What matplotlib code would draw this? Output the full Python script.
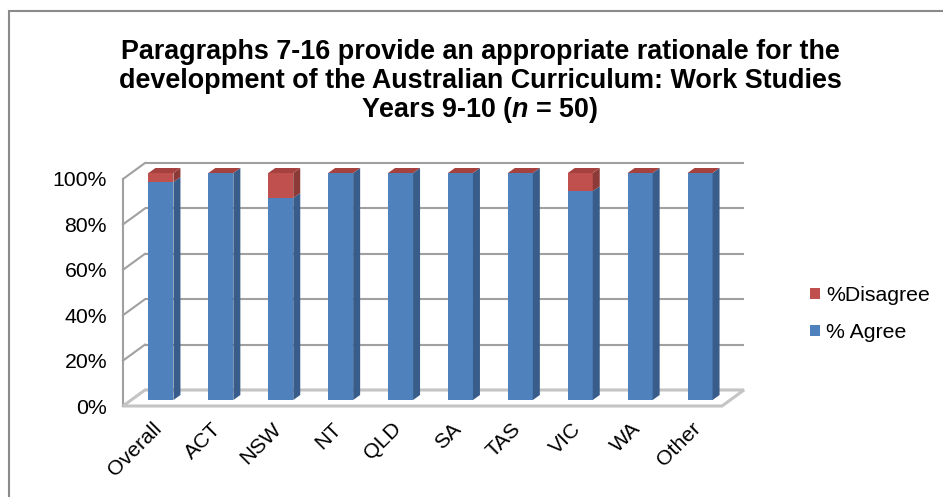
import matplotlib
matplotlib.use("Agg")
import matplotlib.pyplot as plt
from matplotlib.patches import Polygon, Rectangle, Patch
from matplotlib.transforms import ScaledTranslation

plt.rcParams["font.family"] = ["Liberation Sans", "DejaVu Sans"]
plt.rcParams["mathtext.fontset"] = "custom"
plt.rcParams["mathtext.it"] = "Liberation Sans:italic:bold"

# data
categories = ["Overall", "ACT", "NSW", "NT", "QLD", "SA", "TAS", "VIC", "WA", "Other"]
agree = [96, 100, 89, 100, 100, 100, 100, 92, 100, 100]
disagree = [4, 0, 11, 0, 0, 0, 0, 8, 0, 0]
yticks = [0, 20, 40, 60, 80, 100]
ytick_labels = ["0%", "20%", "40%", "60%", "80%", "100%"]

title_lines = [
    "Paragraphs 7-16 provide an appropriate rationale for the",
    "development of the Australian Curriculum: Work Studies",
    "Years 9-10 ($n$ = 50)",
]

BLUE, BLUE_SIDE = "#4f81bd", "#385d8a"
RED, RED_SIDE, RED_TOP = "#c0504d", "#8c3a38", "#a5423f"
GRID = "#a0a0a0"
FLOOR = "#c4c4c4"
FS = 15.3

W, H = 943, 497
fig = plt.figure(figsize=(W / 100, H / 100), dpi=100)

# front plane of the 3d box (pixels)
fl, fr, ft, fb = 123, 722, 179, 406
ax = fig.add_axes([fl / W, 1 - fb / H, (fr - fl) / W, (fb - ft) / H])
n = len(categories)
ax.set_xlim(-0.5, n - 0.5)
ax.set_ylim(0, 100)
for s in ax.spines.values():
    s.set_visible(False)

xpx = (fr - fl) / n      # pixels per category
ypx = (fb - ft) / 100.0  # pixels per percent

# depth of the box, of the bar plane and of each bar, in data units
dX, dY = 22 / xpx, 16 / ypx
bX, bY = 8 / xpx, 6 / ypx
cX, cY = 7 / xpx, 5 / ypx
bw = 25 / xpx

# walls
x0, x1 = -0.5, n - 0.5
for t in yticks:
    ax.plot([x0 + dX, x1 + dX], [t + dY, t + dY], color=GRID, lw=1.5,
            clip_on=False, zorder=1, solid_capstyle="butt")
    ax.plot([x0, x0 + dX], [t, t + dY], color=GRID, lw=1.5,
            clip_on=False, zorder=1)
ax.plot([x0, x0], [0, 100], color=GRID, lw=1.5, clip_on=False, zorder=1)

floor = Polygon([(x0, 0), (x1, 0), (x1 + dX, dY), (x0 + dX, dY)],
                closed=True, facecolor="white", edgecolor=FLOOR, lw=2.2,
                clip_on=False, zorder=2)
ax.add_patch(floor)

# bars
xs = [i + bX for i in range(n)]
ax.bar(xs, agree, width=bw, bottom=bY, color=BLUE, zorder=3, clip_on=False)
tops = [a + bY for a in agree]
ax.bar(xs, disagree, width=bw, bottom=tops, color=RED, zorder=3, clip_on=False)

for i in range(n):
    xr = xs[i] + bw / 2
    xl = xs[i] - bw / 2
    segs = [(bY, bY + agree[i], BLUE_SIDE),
            (bY + agree[i], bY + agree[i] + disagree[i], RED_SIDE)]
    for y0, y1, c in segs:
        if y1 > y0:
            ax.add_patch(Polygon([(xr, y0), (xr + cX, y0 + cY), (xr + cX, y1 + cY), (xr, y1)],
                                 closed=True, facecolor=c, edgecolor="none",
                                 zorder=3, clip_on=False))
    yt = bY + agree[i] + disagree[i]
    ax.add_patch(Polygon([(xl, yt), (xr, yt), (xr + cX, yt + cY), (xl + cX, yt + cY)],
                         closed=True, facecolor=RED_TOP, edgecolor="none",
                         zorder=3, clip_on=False))

# axis labels
ax.set_yticks(yticks)
ax.set_yticklabels(ytick_labels, fontsize=FS)
ax.tick_params(axis="y", length=0, pad=11.5)
ax.set_xticks([])
lab_tr = ax.transData + ScaledTranslation(-0.01, -0.13, fig.dpi_scale_trans)
for i, c in enumerate(categories):
    ax.text(i, 0, c, transform=lab_tr, rotation=45, ha="right", va="top",
            rotation_mode="anchor", fontsize=FS)

# title
for line, y in zip(title_lines, [52, 81, 110]):
    fig.text(480 / W, 1 - y / H, line, ha="center", va="center",
             fontsize=19.4, fontweight="bold")

# legend
handles = [Patch(facecolor=RED), Patch(facecolor=BLUE)]
fig.legend(handles, ["%Disagree", "% Agree"], loc="center left",
           bbox_to_anchor=(810 / W, 1 - 314 / H), frameon=False, fontsize=FS,
           handlelength=0.45, handleheight=0.45, handletextpad=0.3,
           labelspacing=0.85, borderpad=0, borderaxespad=0)

# outer border
fig.patches.append(Rectangle((9 / W, -0.1), 1.0, 1 - 11 / H + 0.1, fill=False,
                             edgecolor="#8a8a8a", lw=1.5, transform=fig.transFigure))

fig.savefig("out.png", dpi=100)
